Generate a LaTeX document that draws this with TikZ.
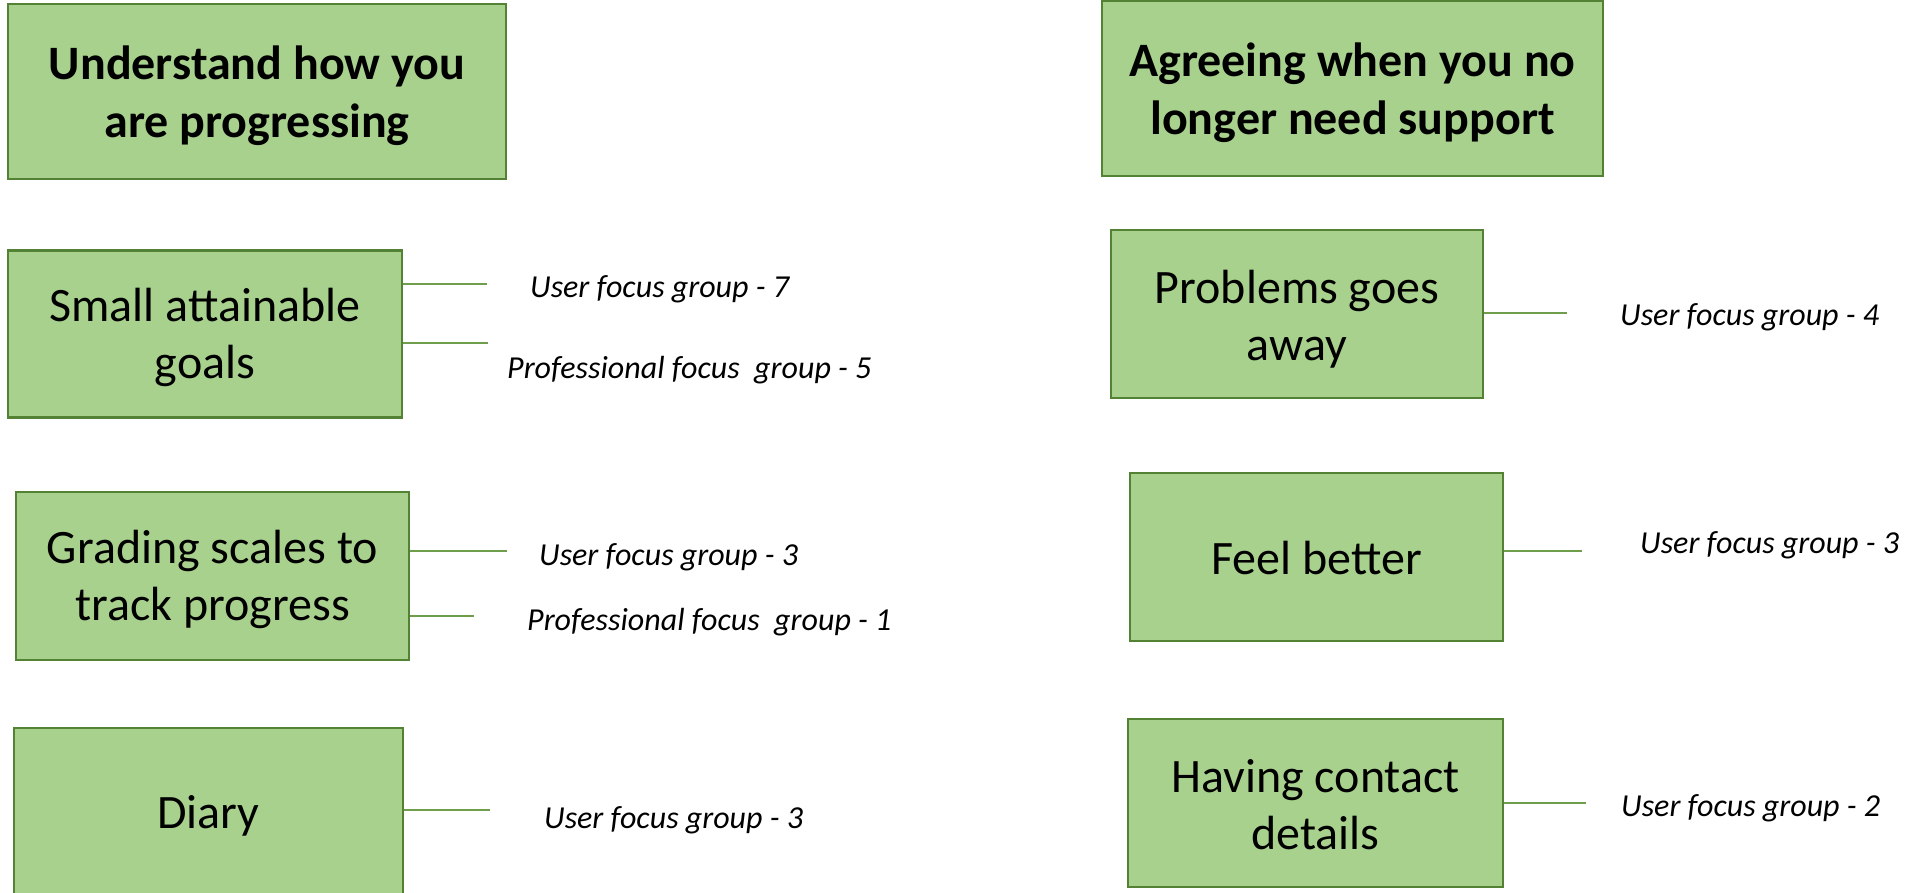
\documentclass[tikz,border=0pt]{standalone}
\usepackage{fontspec}
\setmainfont{Carlito}
\definecolor{boxfill}{HTML}{A9D18E}
\definecolor{boxline}{HTML}{548235}
\definecolor{linkline}{HTML}{6E9E4C}
\begin{document}
\begin{tikzpicture}[x=1pt,y=-1pt,
  box/.style={draw=boxline, line width=2.8pt, fill=boxfill, inner sep=0pt},
  boxtext/.style={inner sep=0pt, align=center, font=\fontsize{48}{57}\selectfont},
  titletext/.style={boxtext, font=\fontsize{48}{58}\selectfont\bfseries},
  link/.style={draw=linkline, line width=1.6pt},
  lab/.style={anchor=west, inner sep=0pt, font=\fontsize{32}{36}\selectfont\itshape}]
\useasboundingbox (0,0) rectangle (1906,893);
% title boxes
\node[box, minimum width=498pt, minimum height=175pt] (t1) at (257,91.5) {};
\node[titletext] (t1t) at ([yshift=-4pt]t1.center) {Understand how you\\are progressing};
\node[box, minimum width=501pt, minimum height=175pt] (t2) at (1352.5,88.5) {};
\node[titletext] (t2t) at ([yshift=-4pt]t2.center) {Agreeing when you no\\longer need support};
% left column
\node[box, minimum width=394pt, minimum height=167pt] (b1) at (205,334) {};
\node[boxtext] (b1t) at ([yshift=-3pt]b1.center) {Small attainable\\goals};
\node[box, minimum width=393pt, minimum height=168pt] (b2) at (212.5,576) {};
\node[boxtext] (b2t) at ([yshift=-3pt]b2.center) {Grading scales to\\track progress};
\node[box, minimum width=389pt, minimum height=168pt] (b3) at (208.5,812) {};
\node[boxtext] (b3t) at ([yshift=-4pt]b3.center) {Diary};
% right column
\node[box, minimum width=372pt, minimum height=168pt] (b4) at (1297,314) {};
\node[boxtext] (b4t) at ([yshift=-5pt]b4.center) {Problems goes\\away};
\node[box, minimum width=373pt, minimum height=168pt] (b5) at (1316.5,557) {};
\node[boxtext] (b5t) at ([yshift=-1pt]b5.center) {Feel better};
\node[box, minimum width=375pt, minimum height=168pt] (b6) at (1315.5,803) {};
\node[boxtext] (b6t) at ([yshift=-2pt]b6.center) {Having contact\\details};
% connector ends
\coordinate (e1a) at (487,284);
\coordinate (e1b) at (488,343);
\coordinate (e2a) at (507,551);
\coordinate (e2b) at (474,616);
\coordinate (e3) at (490,810);
\coordinate (e4) at (1567,313);
\coordinate (e5) at (1582,551);
\coordinate (e6) at (1586,803);
\draw[link] (b1.east |- e1a) -- (e1a);
\draw[link] (b1.east |- e1b) -- (e1b);
\draw[link] (b2.east |- e2a) -- (e2a);
\draw[link] (b2.east |- e2b) -- (e2b);
\draw[link] (b3.east |- e3) -- (e3);
\draw[link] (b4.east |- e4) -- (e4);
\draw[link] (b5.east |- e5) -- (e5);
\draw[link] (b6.east |- e6) -- (e6);
% labels
\node[lab] (l1) at (530,289) {User focus group - 7};
\node[lab] (l2) at (507,370) {Professional focus\ \ group - 5};
\node[lab] (l3) at (539,557) {User focus group - 3};
\node[lab] (l4) at (527,622) {Professional focus\ \ group - 1};
\node[lab] (l5) at (544,820) {User focus group - 3};
\node[lab] (l6) at (1620,317) {User focus group - 4};
\node[lab] (l7) at (1640,545) {User focus group - 3};
\node[lab] (l8) at (1621,808) {User focus group - 2};
\end{tikzpicture}
\end{document}
